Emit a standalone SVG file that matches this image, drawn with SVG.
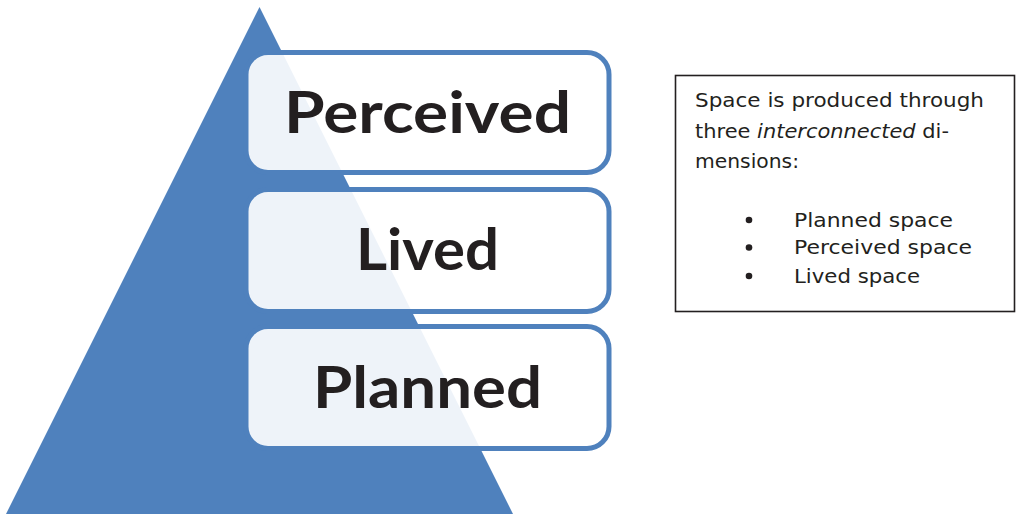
<svg xmlns="http://www.w3.org/2000/svg" width="1020" height="514" viewBox="0 0 1020 514">
  <style>
    .tier { fill: #ffffff; fill-opacity: 0.9; stroke: #4F81BD; stroke-width: 5; }
    .tier-label { font-family: "Lato", "Noto Sans", sans-serif; font-weight: 700; font-size: 58px; fill: #231F20; text-anchor: middle; }
    .note { font-family: "DejaVu Sans", "Liberation Sans", sans-serif; font-size: 20px; fill: #231F20; }
    .bullet { fill: #231F20; }
  </style>

  <rect width="1020" height="514" fill="#ffffff"/>

  <!-- background pyramid -->
  <g id="pyramid">
    <polygon points="259.5,7 513,514 6,514" fill="#4F81BD"/>
  </g>

  <!-- tier boxes, top to bottom -->
  <g id="tier-perceived">
    <rect class="tier" x="246" y="52.5" width="363" height="120" rx="22" ry="22"/>
    <text class="tier-label" x="427.5" y="133" textLength="287" lengthAdjust="spacingAndGlyphs">Perceived</text>
  </g>
  <g id="tier-lived">
    <rect class="tier" x="246" y="189.5" width="363" height="122" rx="22" ry="22"/>
    <text class="tier-label" x="427.5" y="270" textLength="143" lengthAdjust="spacingAndGlyphs">Lived</text>
  </g>
  <g id="tier-planned">
    <rect class="tier" x="246" y="326.5" width="363" height="122" rx="22" ry="22"/>
    <text class="tier-label" x="427.5" y="408" textLength="229" lengthAdjust="spacingAndGlyphs">Planned</text>
  </g>

  <g id="connectors"></g>

  <!-- explanatory note -->
  <g id="note">
    <rect x="675.5" y="75.5" width="339" height="236" fill="#ffffff" stroke="#231F20" stroke-width="1.6"/>
    <text class="note" x="695" y="107" textLength="289" lengthAdjust="spacingAndGlyphs">Space is produced through</text>
    <text class="note" x="695" y="138" textLength="254" lengthAdjust="spacingAndGlyphs">three <tspan font-style="italic">interconnected</tspan> di-</text>
    <text class="note" x="695" y="168" textLength="104" lengthAdjust="spacingAndGlyphs">mensions:</text>
    <circle class="bullet" cx="749" cy="220" r="3.3"/>
    <circle class="bullet" cx="749" cy="247.5" r="3.3"/>
    <circle class="bullet" cx="749" cy="276" r="3.3"/>
    <text class="note" x="794" y="227" textLength="159" lengthAdjust="spacingAndGlyphs">Planned space</text>
    <text class="note" x="794" y="254" textLength="178" lengthAdjust="spacingAndGlyphs">Perceived space</text>
    <text class="note" x="794" y="283" textLength="126" lengthAdjust="spacingAndGlyphs">Lived space</text>
  </g>
</svg>
